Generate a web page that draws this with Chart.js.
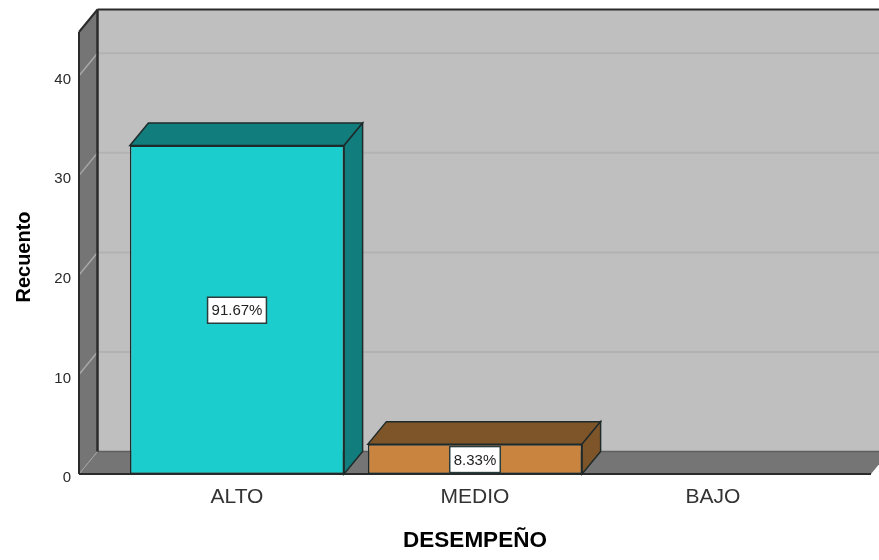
<!DOCTYPE html>
<html>
<head>
<meta charset="utf-8">
<title>Desempeño</title>
<style>
  html, body { margin: 0; padding: 0; background: #fff; }
  canvas { display: block; }
</style>
<script src="https://cdn.jsdelivr.net/npm/chart.js@4"></script>
</head>
<body>
<canvas id="myChart" width="879" height="560"></canvas>
<script>
const categories = ['ALTO', 'MEDIO', 'BAJO'];
const counts = [33, 3, 0];
const percentLabels = ['91.67%', '8.33%', null];
const frontColors = ['#1bcdcd', '#c98540'];
const darkColors = ['#117d7d', '#7e5429'];

// depth of the fake 3d box, and how far the walls stick out past the bars
const depthX = 18.5;
const depthY = 22.5;
const wallMargin = 39;
const edgeColor = '#1f2a2a';

function poly(ctx, points, fill, stroke, lineWidth) {
    ctx.beginPath();
    points.forEach(([x, y], i) => (i ? ctx.lineTo(x, y) : ctx.moveTo(x, y)));
    ctx.closePath();
    if (fill) {
        ctx.fillStyle = fill;
        ctx.fill();
    }
    if (stroke) {
        ctx.strokeStyle = stroke;
        ctx.lineWidth = lineWidth || 1.5;
        ctx.stroke();
    }
}

function line(ctx, x1, y1, x2, y2, color, width) {
    ctx.beginPath();
    ctx.moveTo(x1, y1);
    ctx.lineTo(x2, y2);
    ctx.strokeStyle = color;
    ctx.lineWidth = width;
    ctx.stroke();
}

const box3d = {
    id: 'box3d',
    beforeDatasetsDraw(chart) {
        const { ctx, scales: { x, y } } = chart;
        const left = x.left - wallMargin;
        const right = x.right + wallMargin;
        const top = y.top;
        const bottom = y.bottom;
        ctx.save();

        // back wall, left wall and floor
        poly(ctx, [[left + depthX, top - depthY], [right + depthX, top - depthY],
            [right + depthX, bottom - depthY], [left + depthX, bottom - depthY]], '#bfbfbf');
        poly(ctx, [[left, top], [left + depthX, top - depthY],
            [left + depthX, bottom - depthY], [left, bottom]], '#757575');
        poly(ctx, [[left, bottom], [left + depthX, bottom - depthY],
            [right + depthX, bottom - depthY], [right, bottom]], '#757575');

        // gridlines run along the left wall and then across the back
        y.ticks.forEach((tick) => {
            if (tick.value === 0) return;
            const py = y.getPixelForValue(tick.value);
            line(ctx, left, py, left + depthX, py - depthY, '#a8a8a8', 1.5);
            line(ctx, left + depthX, py - depthY, right + depthX, py - depthY, '#b2b2b2', 2);
        });

        line(ctx, left + depthX, bottom - depthY, right + depthX, bottom - depthY, '#5f5f5f', 1.5);
        line(ctx, left, bottom, left + depthX, bottom - depthY, '#a3a3a3', 1);
        line(ctx, left, top, left, bottom, '#2b2b2b', 2);
        line(ctx, left, top, left + depthX, top - depthY, '#2b2b2b', 2);
        line(ctx, left + depthX, top - depthY, left + depthX, bottom - depthY, '#2b2b2b', 2.5);
        line(ctx, left + depthX, top - depthY, right + depthX, top - depthY, '#2b2b2b', 2);
        line(ctx, left, bottom, right, bottom, '#2b2b2b', 2);

        // top and side faces of each bar
        chart.getDatasetMeta(0).data.forEach((bar, i) => {
            if (!counts[i]) return;
            const x0 = bar.x - bar.width / 2;
            const x1 = bar.x + bar.width / 2;
            poly(ctx, [[x0, bar.y], [x0 + depthX, bar.y - depthY],
                [x1 + depthX, bar.y - depthY], [x1, bar.y]], darkColors[i], edgeColor);
            poly(ctx, [[x1, bar.y], [x1 + depthX, bar.y - depthY],
                [x1 + depthX, bar.base - depthY], [x1, bar.base]], darkColors[i], edgeColor);
        });
        ctx.restore();
    },
    afterDatasetsDraw(chart) {
        const { ctx } = chart;
        ctx.save();
        ctx.font = '15px "Liberation Sans"';
        ctx.textAlign = 'center';
        ctx.textBaseline = 'middle';
        chart.getDatasetMeta(0).data.forEach((bar, i) => {
            if (!percentLabels[i]) return;
            const cy = (bar.y + bar.base) / 2 + 0.5;
            const w = ctx.measureText(percentLabels[i]).width + 8;
            const h = 26;
            ctx.fillStyle = '#fff';
            ctx.fillRect(bar.x - w / 2, cy - h / 2, w, h);
            ctx.strokeStyle = '#2c3c3c';
            ctx.lineWidth = 1.5;
            ctx.strokeRect(bar.x - w / 2, cy - h / 2, w, h);
            ctx.fillStyle = '#222';
            ctx.fillText(percentLabels[i], bar.x, cy + 1);
        });
        ctx.restore();

        // y axis title sits a little below the middle of the wall
        ctx.save();
        ctx.translate(24, 257);
        ctx.rotate(-Math.PI / 2);
        ctx.font = 'bold 20px "Liberation Sans"';
        ctx.textAlign = 'center';
        ctx.textBaseline = 'middle';
        ctx.fillStyle = '#000';
        ctx.fillText('Recuento', 0, 0);
        ctx.restore();
    }
};

new Chart(document.getElementById('myChart'), {
    type: 'bar',
    data: {
        labels: categories,
        datasets: [{
            label: 'Recuento',
            data: counts,
            backgroundColor: frontColors,
            borderColor: edgeColor,
            borderWidth: 1.5,
            borderSkipped: false,
            barPercentage: 0.9,
            categoryPercentage: 1
        }]
    },
    plugins: [box3d],
    options: {
        responsive: false,
        animation: false,
        layout: { padding: { top: 32, right: 47, bottom: 0, left: 0 } },
        plugins: {
            legend: { display: false },
            tooltip: { enabled: false }
        },
        scales: {
            x: {
                grid: { display: false, drawTicks: false },
                border: { display: false },
                afterFit: (scale) => { scale.height = 86; },
                ticks: {
                    color: '#333',
                    padding: 11,
                    font: { family: 'Liberation Sans', size: 21 }
                },
                title: {
                    display: true,
                    text: 'DESEMPEÑO',
                    color: '#000',
                    padding: { top: 0, bottom: 6 },
                    font: { family: 'Liberation Sans', size: 22.5, weight: 'bold' }
                }
            },
            y: {
                min: 0,
                max: 44.4,
                grid: { display: false, drawTicks: false },
                border: { display: false },
                // the large tick padding would otherwise push the plot top down
                afterFit: (scale) => {
                    scale.width = 118;
                    scale.paddingTop = 0;
                    scale.paddingBottom = 0;
                },
                ticks: {
                    stepSize: 10,
                    includeBounds: false,
                    color: '#2a2a2a',
                    padding: 47,
                    labelOffset: 4,
                    font: { family: 'Liberation Sans', size: 15 }
                }
            }
        }
    }
});
</script>
</body>
</html>
